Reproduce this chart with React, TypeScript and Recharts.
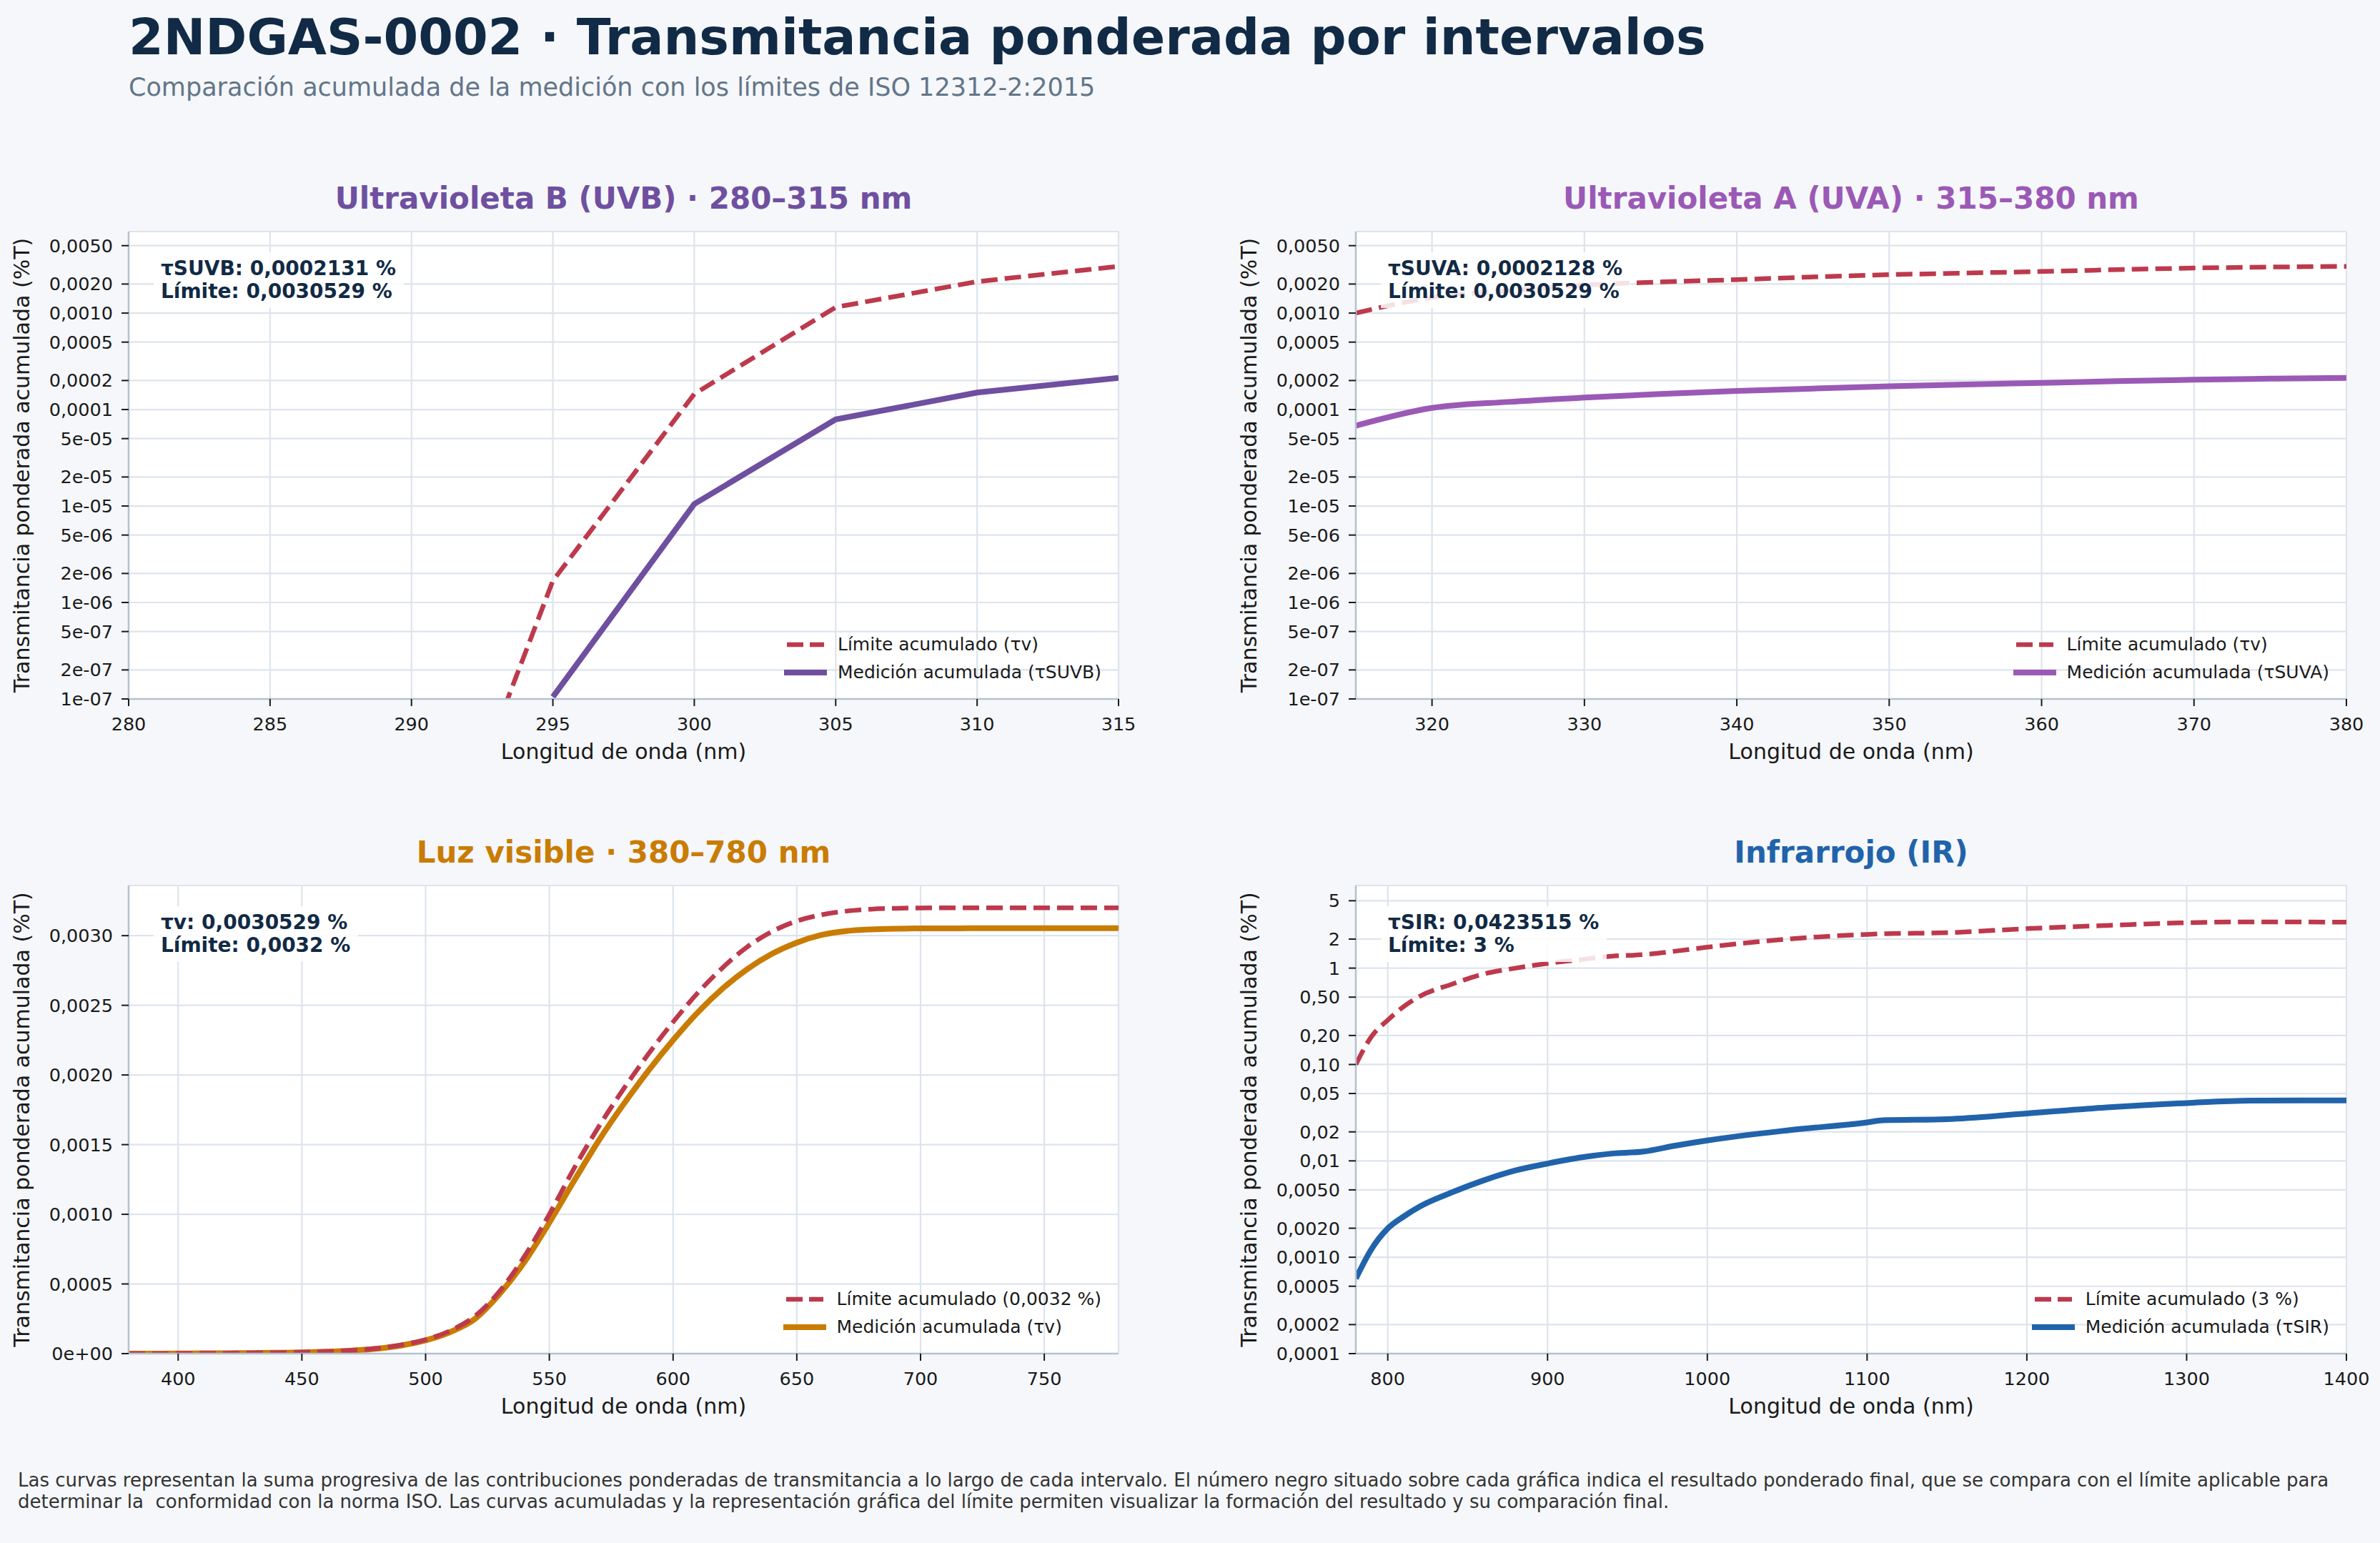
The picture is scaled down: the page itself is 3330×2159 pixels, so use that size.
import React from 'react';
import { LineChart, Line, XAxis, YAxis, CartesianGrid, Legend } from 'recharts';

const FONT = '"DejaVu Sans", "Liberation Sans", sans-serif';

// ---------- Text ----------
const mainTitle = '2NDGAS-0002 · Transmitancia ponderada por intervalos';
const subTitle = 'Comparación acumulada de la medición con los límites de ISO 12312-2:2015';
const footerLines = [
  'Las curvas representan la suma progresiva de las contribuciones ponderadas de transmitancia a lo largo de cada intervalo. El número negro situado sobre cada gráfica indica el resultado ponderado final, que se compara con el límite aplicable para',
  'determinar la  conformidad con la norma ISO. Las curvas acumuladas y la representación gráfica del límite permiten visualizar la formación del resultado y su comparación final.',
];
const xLabel = 'Longitud de onda (nm)';
const yLabel = 'Transmitancia ponderada acumulada (%T)';

// ---------- UVB ----------
const uvbNm = [280, 285, 290, 295, 300, 305, 310, 315];
const uvbLimit = [null, null, 2.5e-10, 1.68e-6, 1.45e-4, 1.15e-3, 2.12e-3, 3.0529e-3];
const uvbMeas = [null, null, null, 1.05e-7, 1.05e-5, 7.9e-5, 1.5e-4, 2.131e-4];
const uvbXTicks = [280, 285, 290, 295, 300, 305, 310, 315];

// ---------- UVA ----------
const uvaNm = [315, 320, 325, 330, 335, 340, 345, 350, 355, 360, 365, 370, 375, 380];
const uvaLimit = [1.0e-3, 1.45e-3, 1.7e-3, 1.95e-3, 2.1e-3, 2.22e-3, 2.37e-3, 2.5e-3, 2.6e-3, 2.7e-3, 2.82e-3, 2.93e-3, 3.0e-3, 3.0529e-3];
const uvaMeas = [6.8e-5, 1.04e-4, 1.2e-4, 1.33e-4, 1.45e-4, 1.56e-4, 1.65e-4, 1.74e-4, 1.82e-4, 1.89e-4, 1.97e-4, 2.04e-4, 2.09e-4, 2.128e-4];
const uvaXTicks = [320, 330, 340, 350, 360, 370, 380];

// UV y axis (log)
const uvYTicks = [1e-7, 2e-7, 5e-7, 1e-6, 2e-6, 5e-6, 1e-5, 2e-5, 5e-5, 1e-4, 2e-4, 5e-4, 1e-3, 2e-3, 5e-3];
const uvYLabels = ['1e-07', '2e-07', '5e-07', '1e-06', '2e-06', '5e-06', '1e-05', '2e-05', '5e-05', '0,0001', '0,0002', '0,0005', '0,0010', '0,0020', '0,0050'];
const uvYMinor = [3e-7, 4e-7, 6e-7, 7e-7, 8e-7, 9e-7, 3e-6, 4e-6, 6e-6, 7e-6, 8e-6, 9e-6, 3e-5, 4e-5, 6e-5, 7e-5, 8e-5, 9e-5, 3e-4, 4e-4, 6e-4, 7e-4, 8e-4, 9e-4, 3e-3, 4e-3, 6e-3, 7e-3];

// ---------- Visible ----------
const visNm = [380, 390, 400, 410, 420, 430, 440, 450, 460, 470, 480, 490, 500, 510, 520, 530, 540, 550, 560, 570, 580, 590, 600, 610, 620, 630, 640, 650, 660, 670, 680, 690, 700, 710, 720, 730, 740, 750, 760, 770, 780];
const visLimit = [0, 0, 1e-6, 2e-6, 3e-6, 5e-6, 7e-6, 1.0e-5, 1.5e-5, 2.3e-5, 3.7e-5, 6.2e-5, 1.0e-4, 1.65e-4, 2.7e-4, 4.5e-4, 7.0e-4, 1.0e-3, 1.33e-3, 1.63e-3, 1.9e-3, 2.15e-3, 2.38e-3, 2.59e-3, 2.77e-3, 2.92e-3, 3.03e-3, 3.105e-3, 3.15e-3, 3.176e-3, 3.19e-3, 3.196e-3, 3.199e-3, 3.2e-3, 3.2e-3, 3.2e-3, 3.2e-3, 3.2e-3, 3.2e-3, 3.2e-3, 3.2e-3];
const visMeas = [0, 0, 1e-6, 2e-6, 3e-6, 4e-6, 6e-6, 9e-6, 1.4e-5, 2.2e-5, 3.5e-5, 5.8e-5, 9.5e-5, 1.55e-4, 2.5e-4, 4.3e-4, 6.6e-4, 9.4e-4, 1.24e-3, 1.53e-3, 1.79e-3, 2.03e-3, 2.25e-3, 2.45e-3, 2.62e-3, 2.76e-3, 2.87e-3, 2.95e-3, 3.005e-3, 3.033e-3, 3.045e-3, 3.05e-3, 3.052e-3, 3.0525e-3, 3.0529e-3, 3.0529e-3, 3.0529e-3, 3.0529e-3, 3.0529e-3, 3.0529e-3, 3.0529e-3];
const visXTicks = [400, 450, 500, 550, 600, 650, 700, 750];
const visYTicks = [0, 0.0005, 0.001, 0.0015, 0.002, 0.0025, 0.003];
const visYLabels = ['0e+00', '0,0005', '0,0010', '0,0015', '0,0020', '0,0025', '0,0030'];

// ---------- IR ----------
const irNm = [780, 790, 800, 810, 820, 840, 860, 880, 900, 920, 940, 960, 980, 1000, 1050, 1100, 1110, 1150, 1200, 1250, 1300, 1340, 1400];
const irLimit = [0.10, 0.197, 0.289, 0.40, 0.51, 0.68, 0.87, 1.0, 1.12, 1.22, 1.33, 1.38, 1.5, 1.65, 2.0, 2.24, 2.27, 2.33, 2.57, 2.77, 2.96, 3.02, 3.0];
const irMeas = [6.0e-4, 1.23e-3, 1.99e-3, 2.65e-3, 3.36e-3, 4.7e-3, 6.27e-3, 7.95e-3, 9.37e-3, 1.08e-2, 1.19e-2, 1.25e-2, 1.44e-2, 1.63e-2, 2.07e-2, 2.51e-2, 2.64e-2, 2.71e-2, 3.1e-2, 3.58e-2, 3.98e-2, 4.22e-2, 4.235e-2];
const irXTicks = [800, 900, 1000, 1100, 1200, 1300, 1400];
const irYTicks = [1e-4, 2e-4, 5e-4, 1e-3, 2e-3, 5e-3, 0.01, 0.02, 0.05, 0.1, 0.2, 0.5, 1, 2, 5];
const irYLabels = ['0,0001', '0,0002', '0,0005', '0,0010', '0,0020', '0,0050', '0,01', '0,02', '0,05', '0,10', '0,20', '0,50', '1', '2', '5'];
const irYMinor = [3e-4, 4e-4, 6e-4, 7e-4, 8e-4, 9e-4, 3e-3, 4e-3, 6e-3, 7e-3, 8e-3, 9e-3, 0.03, 0.04, 0.06, 0.07, 0.08, 0.09, 0.3, 0.4, 0.6, 0.7, 0.8, 0.9, 3, 4, 6, 7];

// ---------- Panel texts ----------
const panelTitles = ['Ultravioleta B (UVB) · 280–315 nm', 'Ultravioleta A (UVA) · 315–380 nm', 'Luz visible · 380–780 nm', 'Infrarrojo (IR)'];
const panelNotes = [
  ['τSUVB: 0,0002131 %', 'Límite: 0,0030529 %'],
  ['τSUVA: 0,0002128 %', 'Límite: 0,0030529 %'],
  ['τv: 0,0030529 %', 'Límite: 0,0032 %'],
  ['τSIR: 0,0423515 %', 'Límite: 3 %'],
];
const panelLegends = [
  ['Límite acumulado (τv)', 'Medición acumulada (τSUVB)'],
  ['Límite acumulado (τv)', 'Medición acumulada (τSUVA)'],
  ['Límite acumulado (0,0032 %)', 'Medición acumulada (τv)'],
  ['Límite acumulado (3 %)', 'Medición acumulada (τSIR)'],
];

// ---------- Styles ----------
const BG = '#f5f7fa';
const RED = '#bd394c';
const COLORS = ['#6f4fa0', '#9b59b6', '#c97c03', '#2163ab'];
const GRID = '#dde4ec';
const GRID_MINOR = '#eef1f5';
const SPINE = '#b5c2d0';
const INK = '#1a1a1a';
const NAVY = '#112a45';

const PLOTS = [
  { x: 180, y: 324, w: 1385, h: 654 },
  { x: 1897, y: 324, w: 1386, h: 654 },
  { x: 180, y: 1239, w: 1385, h: 655 },
  { x: 1897, y: 1239, w: 1386, h: 655 },
];

const M = { top: 60, right: 40, bottom: 150, left: 180 };

function rows(nm: number[], limit: (number | null)[], meas: (number | null)[]) {
  return nm.map((n, i) => ({ nm: n, limit: limit[i], meas: meas[i] }));
}

type PanelProps = {
  idx: number;
  data: any[];
  xDomain: [number, number];
  xTicks: number[];
  log: boolean;
  yDomain: [number, number];
  yTicks: number[];
  yLabels: string[];
  yMinor?: number[];
  curve: 'linear' | 'monotone';
};

function LegendBox({ labels, color }: { labels: string[]; color: string }) {
  return (
    <div style={{ display: 'flex', flexDirection: 'column', fontFamily: FONT, fontSize: 25, color: INK, whiteSpace: 'nowrap' }}>
      <div style={{ display: 'flex', alignItems: 'center', height: 39 }}>
        <svg width={62} height={20} style={{ display: 'block' }}>
          <line x1={4} y1={10} x2={56} y2={10} stroke={RED} strokeWidth={6.5} strokeDasharray="23 9" />
        </svg>
        <span style={{ marginLeft: 13 }}>{labels[0]}</span>
      </div>
      <div style={{ display: 'flex', alignItems: 'center', height: 39 }}>
        <svg width={62} height={20} style={{ display: 'block' }}>
          <line x1={0} y1={10} x2={60} y2={10} stroke={color} strokeWidth={8} />
        </svg>
        <span style={{ marginLeft: 13 }}>{labels[1]}</span>
      </div>
    </div>
  );
}

function Panel(p: PanelProps) {
  const plot = PLOTS[p.idx];
  const color = COLORS[p.idx];
  const nY = p.yMinor ? 2 : 1;
  const margin = { top: M.top, right: M.right, bottom: M.bottom - 1, left: M.left - nY };
  const fmtY = (v: number) => {
    const i = p.yTicks.findIndex((t) => Math.abs(t - v) <= Math.abs(t) * 1e-6 + 1e-12);
    return i >= 0 ? p.yLabels[i] : '';
  };
  const tickFont = { fill: INK, fontSize: 25.5, fontFamily: FONT };
  return (
    <div style={{ position: 'absolute', left: plot.x - M.left, top: plot.y - M.top }}>
      <LineChart width={plot.w + M.left + M.right} height={plot.h + M.top + M.bottom} data={p.data} margin={margin}>
        {p.yMinor && (
          <CartesianGrid yAxisId="minor" vertical={false} stroke={GRID_MINOR} strokeWidth={1.5} fill="#ffffff" />
        )}
        <CartesianGrid yAxisId="main" stroke={GRID} strokeWidth={2.2} fill={p.yMinor ? 'none' : '#ffffff'} />
        <XAxis
          dataKey="nm"
          type="number"
          domain={p.xDomain}
          ticks={p.xTicks}
          allowDataOverflow
          interval={0}
          height={1}
          tickSize={10}
          tickMargin={16}
          axisLine={{ stroke: SPINE, strokeWidth: 2.5 }}
          tickLine={{ stroke: INK, strokeWidth: 2 }}
          tick={tickFont}
        />
        <YAxis
          yAxisId="main"
          type="number"
          scale={p.log ? 'log' : 'linear'}
          domain={p.yDomain}
          allowDataOverflow
          ticks={p.yTicks}
          interval={0}
          width={1}
          tickSize={10}
          tickMargin={12}
          tickFormatter={fmtY}
          axisLine={{ stroke: SPINE, strokeWidth: 2.5 }}
          tickLine={{ stroke: INK, strokeWidth: 2 }}
          tick={tickFont}
        />
        {p.yMinor && (
          <YAxis
            yAxisId="minor"
            type="number"
            scale="log"
            domain={p.yDomain}
            allowDataOverflow
            ticks={p.yMinor}
            interval={0}
            width={1}
            tick={false}
            tickSize={5}
            axisLine={false}
            tickLine={{ stroke: INK, strokeWidth: 1.6 }}
          />
        )}
        <Line
          yAxisId="main"
          type={p.curve}
          dataKey="meas"
          stroke={color}
          strokeWidth={8}
          dot={false}
          activeDot={false}
          connectNulls={false}
          isAnimationActive={false}
        />
        <Line
          yAxisId="main"
          type={p.curve}
          dataKey="limit"
          stroke={RED}
          strokeWidth={6.5}
          strokeDasharray="23 10"
          dot={false}
          activeDot={false}
          connectNulls={false}
          isAnimationActive={false}
        />
        <Legend
          layout="vertical"
          align="center"
          verticalAlign="middle"
          wrapperStyle={{ left: 'auto', top: 'auto', right: M.right + 24, bottom: M.bottom + 18, width: 'auto', height: 'auto' }}
          content={() => <LegendBox labels={panelLegends[p.idx]} color={color} />}
        />
      </LineChart>
    </div>
  );
}

function Note({ idx }: { idx: number }) {
  const plot = PLOTS[idx];
  return (
    <div
      style={{
        position: 'absolute',
        left: plot.x + 35,
        top: plot.y + 29,
        padding: '7px 11px 7px 10px',
        background: 'rgba(255,255,255,0.85)',
        fontFamily: FONT,
        fontWeight: 'bold',
        fontSize: 28,
        lineHeight: '32px',
        color: NAVY,
        whiteSpace: 'nowrap',
      }}
    >
      <div>{panelNotes[idx][0]}</div>
      <div>{panelNotes[idx][1]}</div>
    </div>
  );
}

export default function App() {
  const uvb = rows(uvbNm, uvbLimit, uvbMeas);
  const uva = rows(uvaNm, uvaLimit, uvaMeas);
  const vis = rows(visNm, visLimit, visMeas);
  const ir = rows(irNm, irLimit, irMeas);
  return (
    <div style={{ position: 'absolute', left: 0, top: 0, width: 3330, height: 2159, background: BG, overflow: 'hidden', fontFamily: FONT }}>
      <svg width={3330} height={2159} style={{ position: 'absolute', left: 0, top: 0 }}>
        <text x={180} y={76} fontFamily={FONT} fontWeight="bold" fontSize={70} fill={NAVY}>{mainTitle}</text>
        <text x={180} y={134} fontFamily={FONT} fontSize={35} fill="#637589">{subTitle}</text>
        {PLOTS.map((pl, i) => (
          <g key={i}>
            <text x={pl.x + pl.w / 2} y={pl.y - 32} textAnchor="middle" fontFamily={FONT} fontWeight="bold" fontSize={42} fill={COLORS[i]}>
              {panelTitles[i]}
            </text>
            <text x={pl.x + pl.w / 2} y={pl.y + pl.h + 84} textAnchor="middle" fontFamily={FONT} fontSize={30} fill={INK}>
              {xLabel}
            </text>
            <text
              x={0}
              y={0}
              transform={`translate(${pl.x - 139},${pl.y + pl.h / 2}) rotate(-90)`}
              textAnchor="middle"
              fontFamily={FONT}
              fontSize={30}
              fill={INK}
            >
              {yLabel}
            </text>
          </g>
        ))}
        {footerLines.map((t, i) => (
          <text key={i} x={25} y={2080 + i * 30} fontFamily={FONT} fontSize={26} fill="#333333" style={{ whiteSpace: 'pre' }}>
            {t}
          </text>
        ))}
      </svg>
      <Panel idx={0} data={uvb} xDomain={[280, 315]} xTicks={uvbXTicks} log yDomain={[1e-7, 7e-3]} yTicks={uvYTicks} yLabels={uvYLabels} yMinor={uvYMinor} curve="linear" />
      <Panel idx={1} data={uva} xDomain={[315, 380]} xTicks={uvaXTicks} log yDomain={[1e-7, 7e-3]} yTicks={uvYTicks} yLabels={uvYLabels} yMinor={uvYMinor} curve="monotone" />
      <Panel idx={2} data={vis} xDomain={[380, 780]} xTicks={visXTicks} log={false} yDomain={[0, 0.00336]} yTicks={visYTicks} yLabels={visYLabels} curve="monotone" />
      <Panel idx={3} data={ir} xDomain={[780, 1400]} xTicks={irXTicks} log yDomain={[1e-4, 7.2]} yTicks={irYTicks} yLabels={irYLabels} yMinor={irYMinor} curve="monotone" />
      {PLOTS.map((_, i) => (
        <Note key={i} idx={i} />
      ))}
    </div>
  );
}
